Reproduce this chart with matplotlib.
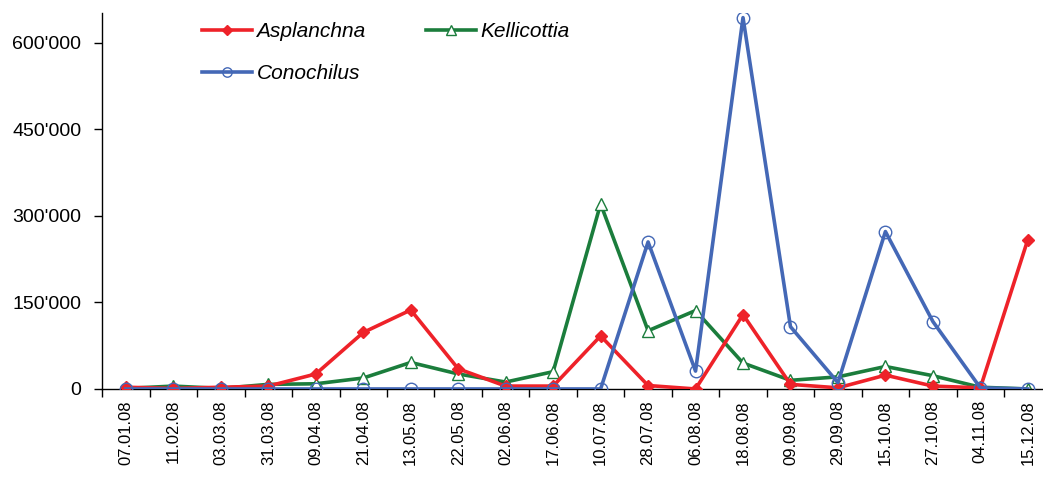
import matplotlib
matplotlib.use("Agg")
import matplotlib.pyplot as plt
from matplotlib.ticker import FuncFormatter, FixedLocator

# Sampling dates (2008) and abundances per taxon
dates = ["07.01.08", "11.02.08", "03.03.08", "31.03.08", "09.04.08",
         "21.04.08", "13.05.08", "22.05.08", "02.06.08", "17.06.08",
         "10.07.08", "28.07.08", "06.08.08", "18.08.08", "09.09.08",
         "29.09.08", "15.10.08", "27.10.08", "04.11.08", "15.12.08"]

asplanchna = [3000, 1000, 3000, 5000, 26000, 98000, 137000, 35000, 5000, 5000,
              92000, 6000, 0, 129000, 8000, 2000, 24000, 5000, 2000, 259000]
kellicottia = [1000, 5000, 1000, 8000, 9000, 19000, 46000, 26000, 12000, 30000,
               321000, 101000, 136000, 45000, 15000, 21000, 39000, 23000, 3000, 0]
conochilus = [0, 0, 0, 0, 0, 0, 0, 0, 0, 0,
              0, 255000, 31000, 644000, 108000, 11000, 273000, 117000, 2000, 0]

RED = "#ee2229"
GREEN = "#1b7d3c"
BLUE = "#4468b6"

plt.rcParams["font.family"] = ["Liberation Sans", "DejaVu Sans"]

fig = plt.figure(figsize=(10.43, 4.82), dpi=100)
ax = fig.add_axes([0.098, 0.193, 0.902, 0.78])

x = range(len(dates))
h_a, = ax.plot(x, asplanchna, color=RED, lw=2.6, marker="D", ms=6.5,
               mfc=RED, mec=RED, label="Asplanchna", zorder=3)
h_k, = ax.plot(x, kellicottia, color=GREEN, lw=2.6, marker="^", ms=9,
               mfc="white", mec=GREEN, mew=1.0, label="Kellicottia", zorder=2)
h_c, = ax.plot(x, conochilus, color=BLUE, lw=2.6, marker="o", ms=9,
               mfc="none", mec=BLUE, mew=1.0, label="Conochilus", zorder=4)

ax.set_xlim(-0.5, 19.32)
ax.set_ylim(0, 652000)
ax.set_xticks(list(x))
ax.set_xticklabels(dates, rotation=90, fontsize=12)
ax.xaxis.set_minor_locator(FixedLocator([i + 0.5 for i in range(-1, 20)]))
ax.tick_params(axis="x", which="major", length=0, pad=8)
ax.tick_params(axis="x", which="minor", length=6, width=1, direction="out")

ax.set_yticks([0, 150000, 300000, 450000, 600000])
ax.yaxis.set_major_formatter(FuncFormatter(lambda v, p: f"{int(v):,}".replace(",", "'")))
ax.tick_params(axis="y", length=6, width=1, direction="out", labelsize=14, pad=9)

for side in ("top", "right"):
    ax.spines[side].set_visible(False)
for side in ("left", "bottom"):
    ax.spines[side].set_linewidth(1.0)

leg = fig.legend([h_a, h_c, h_k], ["Asplanchna", "Conochilus", "Kellicottia"],
                 ncol=2, loc="upper left", bbox_to_anchor=(0.176, 0.993),
                 frameon=False, prop={"style": "italic", "size": 15},
                 handlelength=2.4, handletextpad=0.2, columnspacing=2.9,
                 labelspacing=1.1, markerscale=0.75)

fig.savefig("out.png", dpi=100)
